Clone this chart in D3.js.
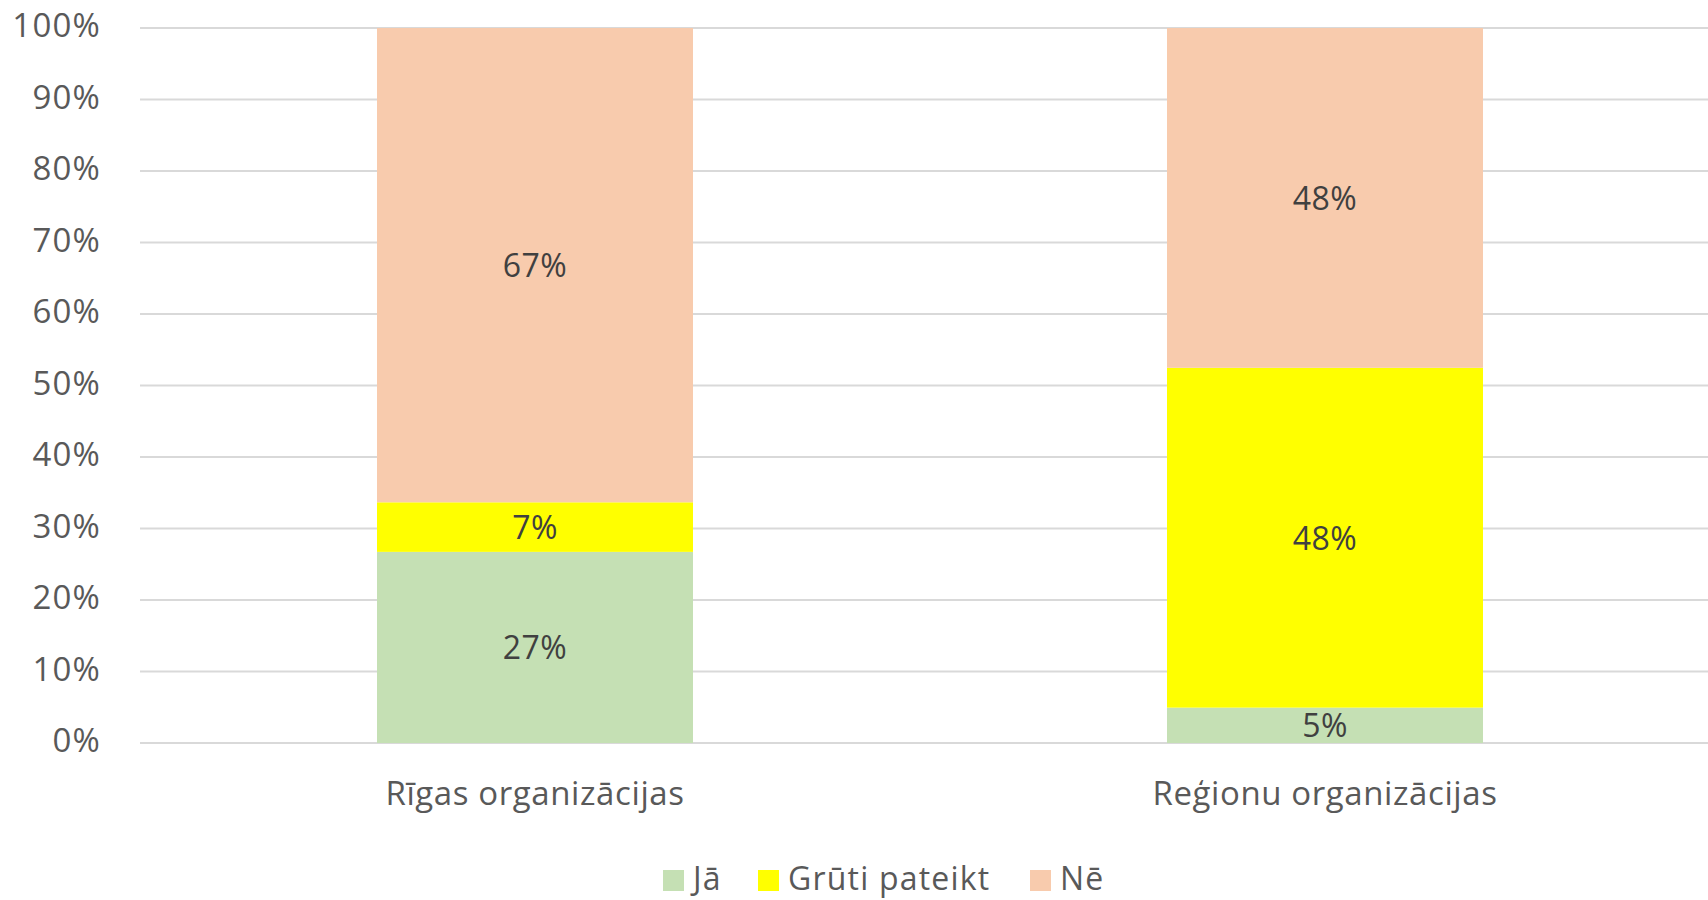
<!DOCTYPE html>
<html>
<head>
<meta charset="utf-8">
<script src="https://cdn.jsdelivr.net/npm/d3@7"></script>
<style>
  body { margin: 0; background: #fff; }
  text { font-family: "Open Sans", sans-serif; }
</style>
</head>
<body>
<svg id="chart" width="1708" height="900"></svg>
<script>
const categories = ["Rīgas organizācijas", "Reģionu organizācijas"];
const seriesNames = ["Jā", "Grūti pateikt", "Nē"];
const ja = [27, 5];
const gruti = [7, 48];
const ne = [67, 48];
const yTicks = [0, 0.1, 0.2, 0.3, 0.4, 0.5, 0.6, 0.7, 0.8, 0.9, 1];
const colors = ["#c5e0b4", "#ffff00", "#f8cbad"];

function drawStacked() {
  const svg = d3.select("#chart");

  const rows = categories.map((c, i) => ({
    cat: c, "Jā": ja[i], "Grūti pateikt": gruti[i], "Nē": ne[i]
  }));

  // Excel 100% stacked -> normalise each column
  const stack = d3.stack()
    .keys(seriesNames)
    .offset(d3.stackOffsetExpand);
  const layers = stack(rows);

  const xScale = d3.scaleBand()
    .domain(categories)
    .range([140, 1720])
    .paddingInner(0.6)
    .paddingOuter(0.3);

  const yScale = d3.scaleLinear()
    .domain([0, 1])
    .range([743, 28]);

  // gridlines
  svg.append("g")
    .selectAll("line")
    .data(yTicks)
    .join("line")
    .attr("x1", 140)
    .attr("x2", 1708)
    .attr("y1", d => yScale(d))
    .attr("y2", d => yScale(d))
    .attr("stroke", "#d9d9d9")
    .attr("stroke-width", 2);

  // y-axis labels
  const yAxis = d3.axisLeft(yScale)
    .tickValues(yTicks)
    .tickFormat(d3.format(".0%"))
    .tickSize(0)
    .tickPadding(0);
  const yg = svg.append("g")
    .attr("transform", "translate(101,0)")
    .call(yAxis);
  yg.select(".domain").remove();
  yg.selectAll("text")
    .attr("font-family", "Open Sans")
    .attr("font-size", 33)
    .attr("letter-spacing", 1.2)
    .attr("fill", "#595959")
    .attr("dy", "0.27em");

  // bars
  const colorScale = d3.scaleOrdinal().domain(seriesNames).range(colors);
  const groups = svg.append("g")
    .selectAll("g")
    .data(layers)
    .join("g")
    .attr("fill", d => colorScale(d.key));

  groups.selectAll("rect")
    .data(d => d)
    .join("rect")
    .attr("x", d => xScale(d.data.cat))
    .attr("width", xScale.bandwidth())
    .attr("y", d => yScale(d[1]))
    .attr("height", d => yScale(d[0]) - yScale(d[1]));

  // data labels
  groups.selectAll("text")
    .data(d => d.map(v => ({ v: v, key: d.key })))
    .join("text")
    .attr("x", d => xScale(d.v.data.cat) + xScale.bandwidth() / 2)
    .attr("y", d => (yScale(d.v[0]) + yScale(d.v[1])) / 2)
    .attr("dy", "0.37em")
    .attr("text-anchor", "middle")
    .attr("font-size", 32)
    .attr("letter-spacing", 0.5)
    .attr("fill", "#404040")
    .text(d => d.v.data[d.key] + "%");

  // x-axis labels
  const xAxis = d3.axisBottom(xScale).tickSize(0).tickPadding(0);
  const xg = svg.append("g")
    .attr("transform", "translate(0,805)")
    .call(xAxis);
  xg.select(".domain").remove();
  xg.selectAll("text")
    .attr("font-family", "Open Sans")
    .attr("font-size", 33)
    .attr("letter-spacing", 0.6)
    .attr("fill", "#595959")
    .attr("dy", "0");

  // legend
  const legendX = [663, 758, 1030];
  const legend = svg.append("g")
    .selectAll("g")
    .data(seriesNames)
    .join("g")
    .attr("transform", (d, i) => "translate(" + legendX[i] + ",880)");
  legend.append("rect")
    .attr("x", 0)
    .attr("y", -10)
    .attr("width", 21)
    .attr("height", 21)
    .attr("fill", d => colorScale(d));
  legend.append("text")
    .attr("x", 30)
    .attr("y", 10)
    .attr("font-size", 32)
    .attr("letter-spacing", 1.2)
    .attr("fill", "#595959")
    .text(d => d);
}

drawStacked();
</script>
</body>
</html>
